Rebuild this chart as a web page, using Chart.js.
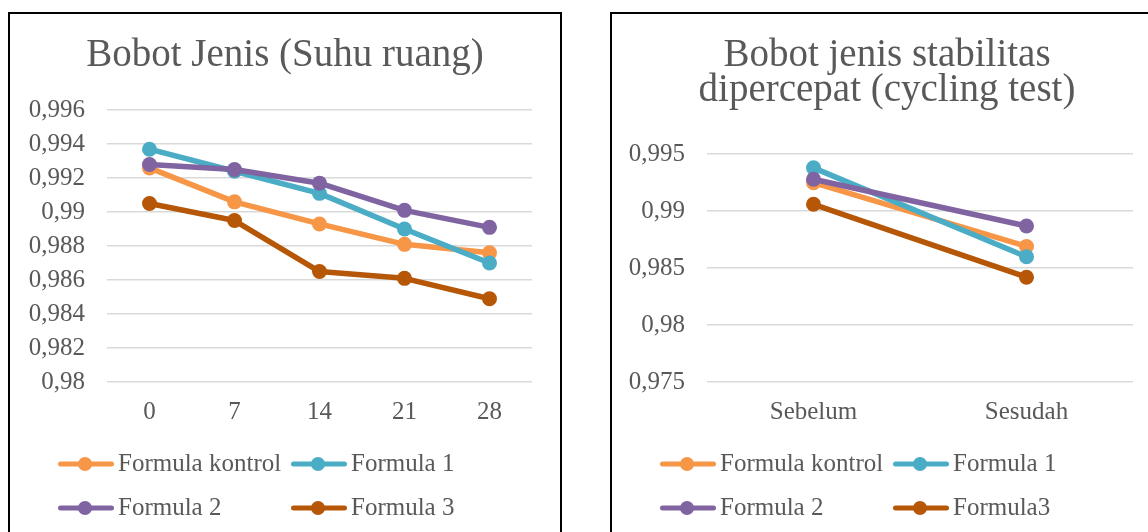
<!DOCTYPE html>
<html>
<head>
<meta charset="utf-8">
<script src="https://cdn.jsdelivr.net/npm/chart.js@4"></script>
<style>
  html, body { margin: 0; padding: 0; overflow: hidden; background: #fff; }
  .box { position: absolute; top: 12px; width: 550px; height: 530px; border: 2px solid #000; background: #fff; }
  .box canvas { display: block; }
</style>
</head>
<body>
<div class="box" style="left:8px"><canvas id="suhuChart" width="550" height="520"></canvas></div>
<div class="box" style="left:610px"><canvas id="cyclingChart" width="550" height="520"></canvas></div>
<script>
// Data
const dayLabels = ['0', '7', '14', '21', '28'];
const kontrolSuhu = [0.9926, 0.9906, 0.9893, 0.9881, 0.9876];
const formula1Suhu = [0.9937, 0.9924, 0.9911, 0.9890, 0.9870];
const formula2Suhu = [0.9928, 0.9925, 0.9917, 0.9901, 0.9891];
const formula3Suhu = [0.9905, 0.9895, 0.9865, 0.9861, 0.9849];

const cycleLabels = ['Sebelum', 'Sesudah'];
const kontrolCycle = [0.9925, 0.9869];
const formula1Cycle = [0.9938, 0.9860];
const formula2Cycle = [0.9928, 0.9887];
const formula3Cycle = [0.9906, 0.9842];

const suhuNames = ['Formula kontrol', 'Formula 1', 'Formula 2', 'Formula 3'];
const cycleNames = ['Formula kontrol', 'Formula 1', 'Formula 2', 'Formula3'];

const colors = ['#F79646', '#4BACC6', '#8064A2', '#B65708'];
const textColor = '#595959';
const fontFamily = '"Liberation Serif", serif';

// Excel style number format: comma decimal, no trailing zeros
function formatTick(value) {
    return String(Number(value.toFixed(3))).replace('.', ',');
}

// Stretch the title block over the whole canvas so it is centred in the box
const centerTitle = {
    id: 'centerTitle',
    afterLayout(chart) {
        const tb = chart.titleBlock;
        if (!tb) return;
        tb.left = 0;
        tb.right = chart.width;
        tb.width = chart.width;
    }
};

// Legend drawn as a 2x2 grid (line + circle marker, like Excel)
const gridLegend = {
    id: 'gridLegend',
    afterDraw(chart) {
        const ctx = chart.ctx;
        const cols = [48, 281];
        const rows = [450, 494];
        chart.data.datasets.forEach((ds, i) => {
            const x = cols[i % 2];
            const y = rows[Math.floor(i / 2)];
            ctx.save();
            ctx.strokeStyle = ds.borderColor;
            ctx.lineWidth = 5;
            ctx.lineCap = 'round';
            ctx.beginPath();
            ctx.moveTo(x + 2.5, y);
            ctx.lineTo(x + 53.5, y);
            ctx.stroke();
            ctx.fillStyle = ds.borderColor;
            ctx.beginPath();
            ctx.arc(x + 27, y, 7, 0, Math.PI * 2);
            ctx.fill();
            ctx.fillStyle = textColor;
            ctx.font = '25px ' + fontFamily;
            ctx.textBaseline = 'middle';
            ctx.textAlign = 'left';
            ctx.fillText(ds.label, x + 60, y);
            ctx.restore();
        });
    }
};

function makeDataset(label, data, i) {
    return {
        label: label,
        data: data,
        borderColor: colors[i],
        backgroundColor: colors[i],
        pointBackgroundColor: colors[i],
        pointBorderWidth: 0,
        pointRadius: 7.5,
        borderWidth: 5.5,
        borderCapStyle: 'round',
        borderJoinStyle: 'round',
        order: 3 - i // later series on top
    };
}

function createLineChart(ctx, labels, series, names, title, yMin, yMax, yStep, yWidth, padRight, titlePad) {
    return new Chart(ctx, {
        type: 'line',
        data: {
            labels: labels,
            datasets: series.map((s, i) => makeDataset(names[i], s, i))
        },
        options: {
            responsive: false,
            animation: false,
            layout: { padding: { left: 0, right: padRight, top: 0, bottom: 92 } },
            plugins: {
                legend: { display: false },
                tooltip: { enabled: false },
                title: {
                    display: true,
                    text: title,
                    color: textColor,
                    font: { family: fontFamily, size: 39, weight: 'normal', lineHeight: 0.9 },
                    padding: titlePad
                }
            },
            scales: {
                x: {
                    offset: true,
                    grid: { display: false, drawTicks: false },
                    border: { display: false },
                    ticks: { color: textColor, font: { family: fontFamily, size: 25 }, padding: 15, maxRotation: 0 },
                    afterFit: scale => { scale.height = 60; }
                },
                y: {
                    min: yMin,
                    max: yMax,
                    grid: { color: '#D9D9D9', lineWidth: 1.5, drawTicks: false },
                    border: { display: false },
                    ticks: {
                        stepSize: yStep,
                        color: textColor,
                        font: { family: fontFamily, size: 25 },
                        padding: 22,
                        callback: value => formatTick(value)
                    },
                    afterFit: scale => { scale.width = yWidth; }
                }
            }
        },
        plugins: [centerTitle, gridLegend]
    });
}

const suhuChart = createLineChart(
    document.getElementById('suhuChart').getContext('2d'),
    dayLabels,
    [kontrolSuhu, formula1Suhu, formula2Suhu, formula3Suhu],
    suhuNames,
    'Bobot Jenis (Suhu ruang)',
    0.98, 0.996, 0.002, 97, 28, { top: 24, bottom: 37 }
);

const cyclingChart = createLineChart(
    document.getElementById('cyclingChart').getContext('2d'),
    cycleLabels,
    [kontrolCycle, formula1Cycle, formula2Cycle, formula3Cycle],
    cycleNames,
    ['Bobot jenis stabilitas', 'dipercepat (cycling test)'],
    0.975, 0.995, 0.005, 95, 29, { top: 24, bottom: 46 }
);
</script>
</body>
</html>
